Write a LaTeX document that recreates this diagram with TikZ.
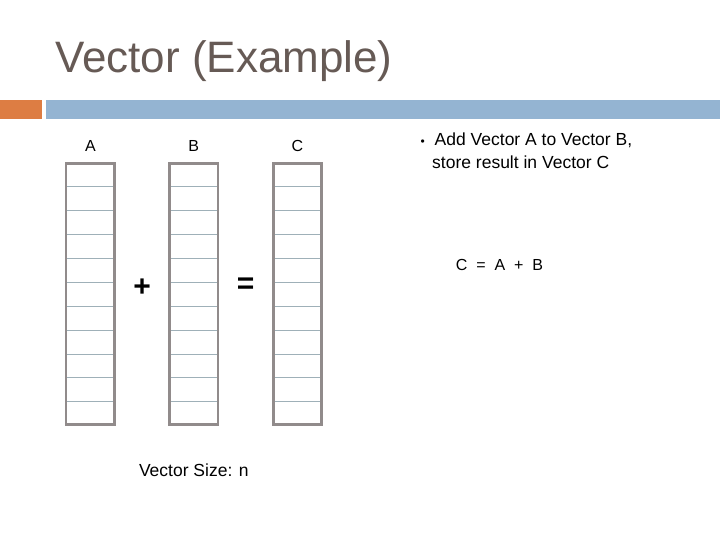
\documentclass[tikz,border=0pt]{standalone}
\usepackage{fontspec}
\setmainfont{Liberation Sans}
\usetikzlibrary{calc,positioning}

\definecolor{titlegray}{HTML}{665A55}
\definecolor{barorange}{HTML}{DD7D43}
\definecolor{barblue}{HTML}{94B4D2}
\definecolor{framegray}{HTML}{918B8B}
\definecolor{cellline}{HTML}{9FB0B8}

\begin{document}
\begin{tikzpicture}[x=1pt,y=-1pt, font=\fontsize{16}{19}\selectfont, line cap=butt]

% ---------- styles ----------
\tikzset{
  vec/.style={draw=framegray, line width=2.6pt, minimum width=48.5pt, minimum height=261pt, inner sep=0pt},
  cell/.style={draw=cellline, line width=0.8pt},
  vlabel/.style={font=\fontsize{16}{19}\selectfont},
  op/.style={font=\bfseries\fontsize{30}{32}\selectfont, inner sep=0pt},
  note/.style={font=\fontsize{17.5}{22.5}\selectfont, align=left},
}

% ---------- canvas ----------
\useasboundingbox (0,0) rectangle (720,540);

% title and header bars
\node[anchor=base west, inner sep=0pt, text=titlegray, font=\fontsize{44}{48}\selectfont]
  (title) at (55,72.2) {Vector (Example)};
\fill[barorange] (0,100) rectangle (42,119);
\fill[barblue]   (46,100) rectangle (720,119);

% ---------- vectors ----------
\foreach \n/\x in {A/90.4, B/193.8, C/297.5}{
  \node[vec] (col\n) at (\x,294) {};
  \node[vlabel, above=7pt of col\n] (lab\n) {\n};
  \foreach \i in {1,...,10}
    \draw[cell] ($(col\n.north west)!{\i/11}!(col\n.south west)+(2.6,0)$)
             -- ($(col\n.north east)!{\i/11}!(col\n.south east)+(-2.6,0)$);
}

% operators
\node[op, yshift=6pt]  (plus)   at ($(colA.east)!0.5!(colB.west)$) {+};
\node[op, yshift=8pt]  (equals) at ($(colB.east)!0.5!(colC.west)$) {=};

% size note
\node[vlabel, font=\fontsize{17.5}{20}\selectfont, below=34pt of colB] (size) {Vector Size: n};

% ---------- task text ----------
\node[note, anchor=north west, inner sep=0pt]
  (task) at (420.5,133)
  {\makebox[14pt][l]{{\fontsize{12}{12}\selectfont •}}Add Vector A to Vector B,\\
   \hspace*{11.5pt}store result in Vector C};

\node (sum) at (499.5,265) {C\ \ =\ \ A\ \ +\ \ B};

\end{tikzpicture}
\end{document}
